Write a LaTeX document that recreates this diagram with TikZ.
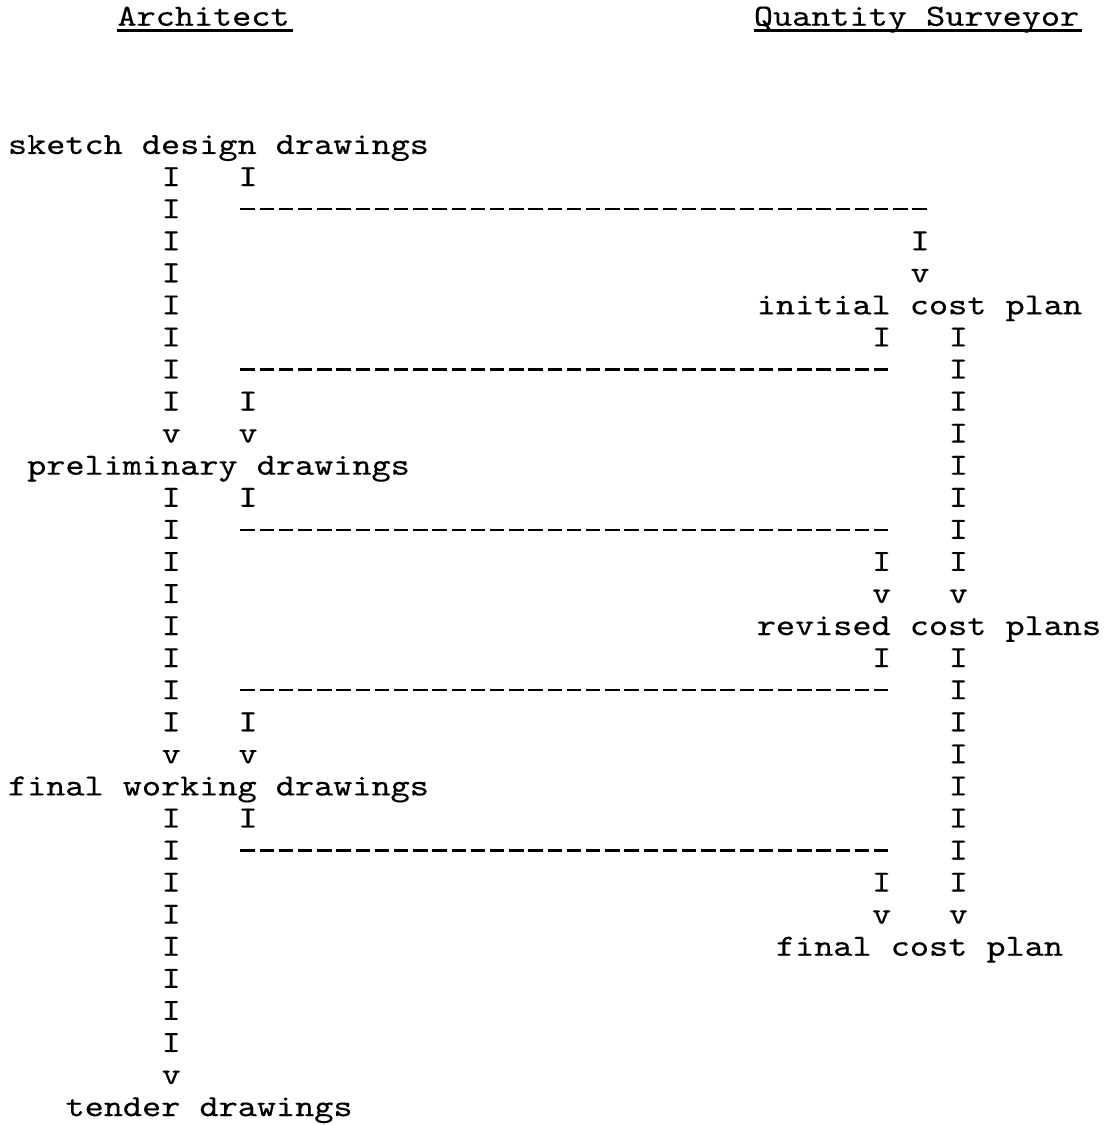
\documentclass[tikz,border=0pt]{standalone}
\usepackage{fontspec}
\newfontfamily\typewr{lmmono10-regular.otf}[FakeStretch=1.185, FakeBold=0.35]
\usetikzlibrary{decorations.markings}

\tikzset{
  lbl/.style={font=\typewr\fontsize{17.5}{17.5}\selectfont, anchor=base west, inner sep=0pt, outer sep=0pt},
  chr/.style={lbl, anchor=base},
  iarrow/.style={decorate, decoration={markings,
      mark=between positions 0 and -0.3cm step 0.6414cm with {\node[chr] {I};},
      mark=at position 1 with {\node[chr] {v};}}},
  tydash/.style={line width=1.3pt, dash pattern=on 0.29cm off 0.094cm},
  uline/.style={line width=1.5pt},
}

\begin{document}
\begin{tikzpicture}[x=0.384cm, y=-0.6414cm]
    \useasboundingbox (-0.4167,-0.8014) rectangle (57.604,34.278);

    % headings
    \node[lbl] (arch) at (5.7,0) {Architect};
    \node[lbl] (qs) at (38.85,0) {Quantity Surveyor};
    \draw[uline] ([yshift=-0.1cm]arch.base west) -- ([yshift=-0.1cm, xshift=0.06cm]arch.base east);
    \draw[uline] ([yshift=-0.1cm]qs.base west) -- ([yshift=-0.1cm, xshift=0.06cm]qs.base east);

    % drawings
    \node[lbl] (sketch) at (0,4) {sketch design drawings};
    \node[lbl] (prelim) at (1,14) {preliminary drawings};
    \node[lbl] (working) at (0,24) {final working drawings};
    \node[lbl] (tender) at (3,34) {tender drawings};

    % cost plans
    \node[lbl] (initial) at (39,9) {initial cost plan};
    \node[lbl] (revised) at (39,19) {revised cost plans};
    \node[lbl] (final) at (40,29) {final cost plan};

    % single bars leading into a row of dashes
    \node[chr] (sk-r) at (12.5,5) {I};
    \node[chr] (pr-r) at (12.5,15) {I};
    \node[chr] (wk-r) at (12.5,25) {I};
    \node[chr] (in-l) at (45.5,10) {I};
    \node[chr] (rv-l) at (45.5,20) {I};

    % ends of the bar columns
    \coordinate (sk-l) at (8.5,5);   \coordinate (pr-top) at (8.5,13);
    \coordinate (pr-l) at (8.5,15);  \coordinate (wk-top) at (8.5,23);
    \coordinate (wk-l) at (8.5,25);  \coordinate (td-top) at (8.5,33);
    \coordinate (b1) at (12.5,12);   \coordinate (pr-top2) at (12.5,13);
    \coordinate (b2) at (12.5,22);   \coordinate (wk-top2) at (12.5,23);
    \coordinate (b0) at (47.5,7);    \coordinate (in-top) at (47.5,8);
    \coordinate (b3) at (45.5,17);   \coordinate (rv-top) at (45.5,18);
    \coordinate (b4) at (45.5,27);   \coordinate (fn-top) at (45.5,28);
    \coordinate (in-r) at (49.5,10); \coordinate (rv-top2) at (49.5,18);
    \coordinate (rv-r) at (49.5,20); \coordinate (fn-top2) at (49.5,28);

    % ends of the dash rows
    \coordinate (d0w) at (12.1,5.72);  \coordinate (d0e) at (47.86,5.72);
    \coordinate (d1w) at (12.1,10.72); \coordinate (d1e) at (45.86,10.72);
    \coordinate (d2w) at (12.1,15.72); \coordinate (d2e) at (45.86,15.72);
    \coordinate (d3w) at (12.1,20.72); \coordinate (d3e) at (45.86,20.72);
    \coordinate (d4w) at (12.1,25.72); \coordinate (d4e) at (45.86,25.72);

    \path[iarrow] (sk-l) -- (pr-top);
    \path[iarrow] (pr-l) -- (wk-top);
    \path[iarrow] (wk-l) -- (td-top);
    \path[iarrow] (b1) -- (pr-top2);
    \path[iarrow] (b2) -- (wk-top2);
    \path[iarrow] (b0) -- (in-top);
    \path[iarrow] (b3) -- (rv-top);
    \path[iarrow] (b4) -- (fn-top);
    \path[iarrow] (in-r) -- (rv-top2);
    \path[iarrow] (rv-r) -- (fn-top2);

    \draw[tydash] (d0w) -- (d0e);
    \draw[tydash] (d1w) -- (d1e);
    \draw[tydash] (d2w) -- (d2e);
    \draw[tydash] (d3w) -- (d3e);
    \draw[tydash] (d4w) -- (d4e);
\end{tikzpicture}
\end{document}
